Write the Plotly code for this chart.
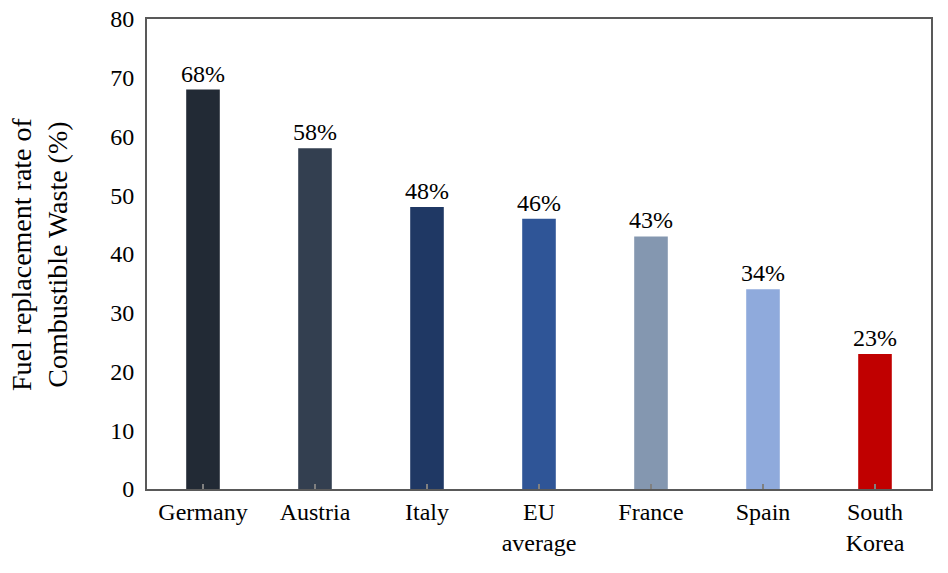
import plotly.graph_objects as go

categories = ["Germany", "Austria", "Italy", "EU<br>average", "France", "Spain", "South<br>Korea"]
values = [68, 58, 48, 46, 43, 34, 23]
labels = ["68%", "58%", "48%", "46%", "43%", "34%", "23%"]
colors = ["#222a35", "#333f50", "#1f3864", "#2f5597", "#8497b0", "#8faadc", "#c00000"]
y_title = "Fuel replacement rate of<br>Combustible Waste (%)"

font = "Liberation Serif, Times New Roman, serif"

fig = go.Figure(go.Bar(
    x=categories, y=values, text=labels, textposition="outside",
    constraintext="none",
    textfont=dict(family=font, size=24, color="black"),
    marker=dict(color=colors, line=dict(width=0)),
    width=0.3, cliponaxis=False,
))

fig.update_layout(
    width=948, height=573,
    margin=dict(l=147, r=17, t=19, b=84, autoexpand=False),
    plot_bgcolor="white", paper_bgcolor="white",
    showlegend=False,
    font=dict(family=font, size=24, color="black"),
    xaxis=dict(
        automargin=False,
        showline=True, linecolor="#595959", linewidth=2, mirror=True,
        ticks="inside", ticklen=5, tickcolor="#808080", tickwidth=2,
        tickfont=dict(family=font, size=24, color="black"),
        showgrid=False,
    ),
    yaxis=dict(
        automargin=False,
        range=[0, 80], dtick=10,
        showline=True, linecolor="#595959", linewidth=2, mirror=True,
        ticks="", showgrid=False, zeroline=False,
        tickfont=dict(family=font, size=24, color="black"),
        ticklabelstandoff=6, ticklabeloverflow="allow",
    ),
    annotations=[dict(
        text=y_title, textangle=-90, showarrow=False,
        xref="paper", yref="paper", x=(39 - 147) / 784, y=0.5,
        xanchor="center", yanchor="middle",
        font=dict(family=font, size=28, color="black"),
    )],
)

fig.write_html(
    "out.html",
    config={"displayModeBar": False},
    post_script="document.body.style.margin='0';document.body.style.overflow='hidden';",
)
